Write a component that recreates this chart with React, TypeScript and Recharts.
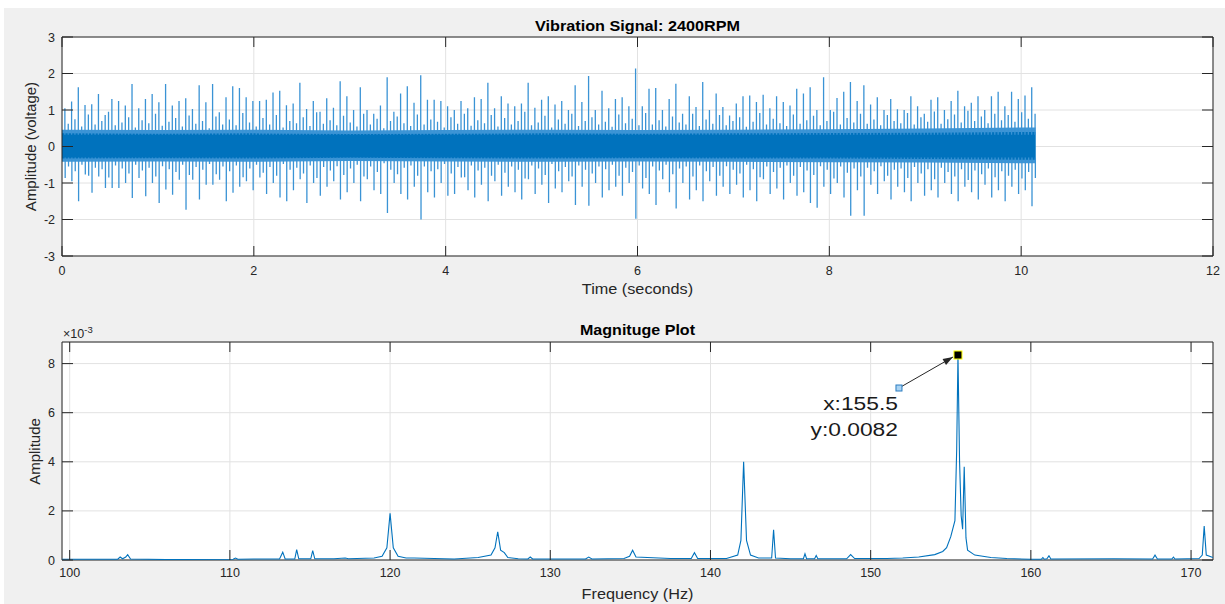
import React from 'react';
import {
  ComposedChart,
  LineChart,
  Line,
  Area,
  XAxis,
  YAxis,
  CartesianGrid,
  ReferenceArea,
  ReferenceDot,
} from 'recharts';

// ---- vibration signal (top) ----
const timeTicks = [0, 2, 4, 6, 8, 10, 12];
const voltTicks = [-3, -2, -1, 0, 1, 2, 3];

// impact spikes, one every SPIKE_DT seconds starting at SPIKE_T0
const SPIKE_T0 = 0.03;
const SPIKE_DT = 0.07;
// spikes start from the edge of the noise floor
const BASE_HI = 0.32;
const BASE_LO = -0.3;
const spikeHigh = [
  1.05, 1.23, 1.62, 1.14, 1.16, 1.44, 0.86, 1.3, 1.25, 1.12,
  1.71, 1.05, 1.3, 1.44, 1.21, 1.71, 1.12, 1.25, 1.32, 1.03,
  1.68, 1.21, 1.71, 0.94, 1.35, 1.65, 1.6, 1.35, 1.25, 1.25,
  1.28, 1.48, 1.53, 1.13, 1.18, 1.75, 1.03, 1.25, 0.95, 1.32,
  1.06, 1.79, 1.38, 1.0, 1.62, 1.0, 0.9, 1.12, 1.9, 0.95,
  1.45, 1.65, 1.2, 1.95, 1.28, 1.28, 1.25, 1.1, 1.0, 1.25,
  1.05, 1.35, 1.3, 1.75, 1.05, 1.38, 1.18, 1.1, 1.18, 1.75,
  1.06, 1.28, 1.38, 1.15, 1.25, 1.0, 1.68, 1.22, 1.93, 1.0,
  1.53, 1.05, 1.3, 1.35, 1.1, 2.14, 1.1, 1.58, 1.6, 1.0,
  1.3, 1.72, 0.9, 1.38, 1.08, 1.77, 1.0, 1.45, 1.08, 0.85,
  1.18, 1.38, 1.4, 1.22, 1.42, 1.05, 1.38, 1.22, 1.12, 1.58,
  1.45, 1.62, 1.0, 1.9, 1.0, 1.33, 1.5, 1.77, 1.25, 1.68,
  1.15, 1.35, 1.0, 1.3, 1.02, 1.0, 1.38, 1.1, 0.9, 1.28,
  1.35, 1.0, 1.25, 1.53, 1.1, 1.2, 1.38, 1.0, 1.38, 1.5,
  1.1, 1.5, 1.3, 1.4, 1.62,
];
const spikeLow = [
  -0.86, -0.95, -1.5, -0.77, -1.27, -0.82, -1.14, -1.14, -1.14, -1.0,
  -1.41, -0.86, -1.36, -1.0, -1.55, -1.18, -1.32, -0.91, -1.73, -0.91,
  -1.45, -1.05, -1.05, -0.91, -1.5, -1.27, -1.1, -0.95, -1.2, -0.85,
  -1.3, -1.0, -1.4, -1.5, -1.2, -0.9, -1.55, -1.0, -1.35, -1.1,
  -0.95, -1.45, -1.25, -1.0, -1.5, -0.9, -1.2, -1.3, -1.82, -1.0,
  -1.3, -1.45, -1.1, -2.0, -1.25, -1.4, -1.0, -1.35, -1.3, -0.85,
  -1.2, -1.4, -1.05, -1.5, -0.95, -1.35, -1.1, -1.25, -1.45, -0.9,
  -1.3, -1.05, -1.55, -1.15, -1.25, -0.95, -1.6, -1.1, -1.62, -1.0,
  -1.4, -1.2, -1.1, -1.35, -1.0, -1.98, -1.15, -1.3, -1.6, -0.9,
  -1.25, -1.7, -1.0, -1.45, -1.2, -1.5, -0.95, -1.35, -1.1, -1.3,
  -1.05, -1.4, -1.2, -1.5, -0.9, -1.3, -1.15, -1.45, -1.0, -1.35,
  -1.25, -1.55, -1.68, -1.1, -1.3, -1.0, -1.4, -1.9, -1.2, -1.9,
  -1.05, -1.3, -0.95, -1.45, -1.1, -1.25, -1.5, -1.0, -1.35, -1.2,
  -1.4, -1.0, -1.3, -1.5, -1.1, -1.25, -1.45, -1.05, -1.4, -1.2,
  -1.5, -1.1, -1.3, -1.2, -1.64,
];
// smaller bursts half way between the impacts
const minorHigh = [
  0.62, 0.75, 0.55, 0.88, 0.6, 0.7, 0.95, 0.58, 0.66, 0.8,
  0.52, 0.72, 0.64, 0.9, 0.57, 0.68, 0.78, 0.55, 0.85, 0.62,
  0.7, 0.5, 0.82, 0.6, 0.74, 0.58, 0.92, 0.66, 0.55, 0.78,
  0.6, 0.86, 0.52, 0.7, 0.64, 0.8, 0.56, 0.94, 0.62, 0.72,
  0.58, 0.84, 0.66, 0.55, 0.9, 0.6, 0.76, 0.5, 0.7, 0.82,
  0.64, 0.56, 0.88, 0.6, 0.74, 0.68, 0.52, 0.8, 0.62, 0.9,
  0.57, 0.72, 0.64, 0.86, 0.55, 0.78, 0.6, 0.7, 0.95, 0.58,
  0.66, 0.84, 0.52, 0.74, 0.62, 0.9, 0.56, 0.7, 0.8, 0.6,
  0.68, 0.54, 0.88, 0.64, 0.76, 0.58, 0.92, 0.6, 0.72, 0.55,
  0.82, 0.66, 0.6, 0.9, 0.56, 0.74, 0.62, 0.86, 0.58, 0.7,
  0.8, 0.54, 0.68, 0.92, 0.6, 0.76, 0.64, 0.56, 0.88, 0.62,
  0.72, 0.84, 0.58, 0.7, 0.95, 0.6, 0.78, 0.66, 0.9, 0.62,
  0.74, 0.58, 0.86, 0.7, 0.64, 0.92, 0.6, 0.8, 0.68, 0.96,
  0.62, 0.75, 0.88, 0.66, 0.98, 0.7, 0.82, 0.64, 0.9, 0.72,
  0.86, 0.68, 0.94, 0.76, 0.9,
];
const minorLow = [
  -0.55, -0.68, -0.5, -0.8, -0.58, -0.62, -0.85, -0.52, -0.6, -0.74,
  -0.5, -0.66, -0.58, -0.82, -0.54, -0.62, -0.7, -0.5, -0.78, -0.56,
  -0.64, -0.48, -0.76, -0.55, -0.68, -0.52, -0.84, -0.6, -0.5, -0.72,
  -0.56, -0.8, -0.48, -0.64, -0.58, -0.74, -0.52, -0.86, -0.56, -0.66,
  -0.54, -0.78, -0.6, -0.5, -0.82, -0.55, -0.7, -0.46, -0.64, -0.76,
  -0.58, -0.52, -0.8, -0.55, -0.68, -0.62, -0.48, -0.74, -0.56, -0.84,
  -0.52, -0.66, -0.58, -0.8, -0.5, -0.72, -0.55, -0.64, -0.88, -0.52,
  -0.6, -0.78, -0.48, -0.68, -0.56, -0.82, -0.52, -0.64, -0.74, -0.55,
  -0.62, -0.5, -0.8, -0.58, -0.7, -0.52, -0.86, -0.55, -0.66, -0.5,
  -0.76, -0.6, -0.55, -0.82, -0.52, -0.68, -0.56, -0.8, -0.54, -0.64,
  -0.74, -0.5, -0.62, -0.84, -0.55, -0.7, -0.58, -0.52, -0.8, -0.56,
  -0.66, -0.78, -0.54, -0.64, -0.88, -0.55, -0.72, -0.6, -0.82, -0.58,
  -0.68, -0.54, -0.8, -0.64, -0.6, -0.86, -0.56, -0.74, -0.62, -0.9,
  -0.58, -0.7, -0.82, -0.62, -0.92, -0.66, -0.76, -0.6, -0.84, -0.68,
  -0.8, -0.64, -0.88, -0.7, -0.86,
];

// dense noise floor envelope
const bandT = [0, 1, 2, 3, 4, 5, 6, 7, 8, 9, 10, 10.15];
const coreHi = [0.36, 0.35, 0.36, 0.34, 0.35, 0.36, 0.35, 0.36, 0.37, 0.38, 0.4, 0.4];
const coreLo = [-0.33, -0.32, -0.33, -0.31, -0.32, -0.33, -0.32, -0.33, -0.33, -0.34, -0.36, -0.36];
const fringeHi = [0.46, 0.45, 0.46, 0.44, 0.45, 0.46, 0.45, 0.46, 0.47, 0.49, 0.52, 0.52];
const fringeLo = [-0.42, -0.41, -0.42, -0.4, -0.41, -0.42, -0.41, -0.42, -0.43, -0.44, -0.46, -0.46];

// ---- magnitude spectrum (bottom), amplitude in units of 1e-3 ----
const freqTicks = [100, 110, 120, 130, 140, 150, 160, 170];
const ampTicks = [0, 2, 4, 6, 8];
const freqHz = [
  99.52, 103.0, 103.15, 103.3, 103.5, 103.62, 103.8, 106.0, 110.2, 110.35, 110.5, 111.5,
  113.1, 113.3, 113.45, 114.05, 114.17, 114.3, 115.05, 115.17, 115.3, 116.5, 117.2, 117.4,
  119.0, 119.5, 119.8, 120.0, 120.2, 120.5, 121.0, 121.5, 124.0, 125.5, 126.3, 126.55,
  126.72, 126.9, 127.13, 127.35, 128.0, 128.6, 128.75, 128.9, 131.0, 132.2, 132.4, 132.6,
  134.6, 134.95, 135.14, 135.35, 137.5, 138.8, 139.0, 139.2, 141.0, 141.7, 141.9, 142.07,
  142.25, 142.5, 143.0, 143.82, 143.94, 144.06, 145.0, 145.8, 145.9, 146.0, 146.5, 146.6,
  146.7, 148.5, 148.75, 149.0, 151.0, 152.0, 153.0, 154.0, 154.5, 154.74, 155.0, 155.26,
  155.37, 155.45, 155.55, 155.65, 155.74, 155.84, 155.95, 156.05, 156.5, 157.5, 158.5, 160.0,
  160.65, 160.75, 160.85, 161.0, 161.13, 161.25, 165.2, 167.6, 167.75, 167.9, 168.8, 168.9,
  169.0, 170.5, 170.7, 170.82, 170.95, 171.37,
];
const ampE3 = [
  0.03, 0.03, 0.12, 0.05, 0.12, 0.22, 0.04, 0.02, 0.03, 0.08, 0.03, 0.04,
  0.04, 0.32, 0.04, 0.04, 0.42, 0.05, 0.05, 0.38, 0.05, 0.05, 0.08, 0.05,
  0.08, 0.15, 0.5, 1.9, 0.5, 0.15, 0.08, 0.08, 0.04, 0.1, 0.2, 0.5,
  1.15, 0.4, 0.3, 0.1, 0.05, 0.04, 0.12, 0.04, 0.04, 0.04, 0.12, 0.04,
  0.06, 0.15, 0.4, 0.12, 0.06, 0.06, 0.3, 0.06, 0.06, 0.2, 0.8, 4.0,
  0.8, 0.2, 0.08, 0.08, 1.23, 0.08, 0.05, 0.05, 0.25, 0.05, 0.05, 0.18,
  0.05, 0.05, 0.22, 0.06, 0.06, 0.08, 0.12, 0.22, 0.35, 0.5, 0.95, 1.6,
  4.5, 8.35, 4.0, 1.8, 1.25, 3.8, 0.9, 0.4, 0.2, 0.1, 0.06, 0.03,
  0.03, 0.1, 0.03, 0.05, 0.17, 0.04, 0.05, 0.04, 0.2, 0.04, 0.04, 0.12,
  0.04, 0.06, 0.2, 1.38, 0.2, 0.1,
];

const peakFreq = 155.45;
const peakAmp = 8.35;
const peakLabel = ['x:155.5', 'y:0.0082'];

// ---- layout ----
const W = 1221;
const TOP_H = 300;
const BOT_H = 296;
const TOP_PLOT = { l: 58, r: 1209, t: 29, b: 248 };
const BOT_PLOT = { l: 58, r: 1209, t: 34, b: 252 };
const FONT = '"Liberation Sans", Arial, Helvetica, sans-serif';
const AXIS = '#262626';
const GRID = '#e2e2e2';
const BLUE = '#0072BD';

// each spike is its own segment (null breaks the line) so nothing crosses the dense floor
const spikeData: { t: number; v: number | null }[] = [];
const pushSpike = (t: number, hi: number, lo: number) => {
  spikeData.push(
    { t, v: BASE_HI },
    { t, v: hi },
    { t, v: null },
    { t: t + 0.003, v: BASE_LO },
    { t: t + 0.003, v: lo },
    { t: t + 0.003, v: null }
  );
};
spikeHigh.forEach((hi, i) => {
  const t = SPIKE_T0 + i * SPIKE_DT;
  pushSpike(t, hi, spikeLow[i]);
  pushSpike(t + SPIKE_DT / 2, minorHigh[i], minorLow[i]);
});
const bandData = bandT.map((t, i) => ({
  t,
  core: [coreLo[i], coreHi[i]],
  fringe: [fringeLo[i], fringeHi[i]],
}));
const spectrum = freqHz.map((f, i) => ({ f, a: ampE3[i] }));

const makeXTick = (plot: any, labelDy: number) => (props: any) => {
  const { x, payload } = props;
  return (
    <g>
      <line x1={x} x2={x} y1={plot.b} y2={plot.b - 10} stroke={AXIS} />
      <line x1={x} x2={x} y1={plot.t} y2={plot.t + 10} stroke={AXIS} />
      <text x={x} y={plot.b + labelDy} textAnchor="middle" fontSize={12.5} fill={AXIS} fontFamily={FONT}>
        {payload.value}
      </text>
    </g>
  );
};

const makeYTick = (plot: any) => (props: any) => {
  const { y, payload } = props;
  return (
    <g>
      <line x1={plot.l} x2={plot.l + 11} y1={y} y2={y} stroke={AXIS} />
      <line x1={plot.r - 11} x2={plot.r} y1={y} y2={y} stroke={AXIS} />
      <text x={plot.l - 7} y={y + 4.5} textAnchor="end" fontSize={12.5} fill={AXIS} fontFamily={FONT}>
        {payload.value}
      </text>
    </g>
  );
};

const PeakMarker = (props: any) => {
  const { cx, cy } = props;
  const ax = cx - 59;
  const ay = cy + 33;
  const tx = cx - 5;
  const ty = cy + 2;
  const ux = 0.867;
  const uy = -0.499;
  const bx = tx - 10 * ux;
  const by = ty - 10 * uy;
  return (
    <g>
      <line x1={ax} y1={ay} x2={tx} y2={ty} stroke={AXIS} strokeWidth={1} />
      <polygon
        points={`${tx},${ty} ${bx + 3.5 * 0.499},${by + 3.5 * 0.867} ${bx - 3.5 * 0.499},${by - 3.5 * 0.867}`}
        fill={AXIS}
      />
      <rect x={ax - 3} y={ay - 3} width={6} height={6} fill="#a9d3f3" stroke="#2b7cc0" strokeWidth={1} />
      <rect x={cx - 4} y={cy - 4} width={8} height={8} fill="#000" stroke="#ffff00" strokeWidth={1} />
      <text
        x={0}
        y={0}
        textAnchor="end"
        fontSize={19}
        fill="#1a1a1a"
        fontFamily={FONT}
        transform={`translate(${cx - 60},${cy + 54.5}) scale(1.2,1)`}
      >
        {peakLabel[0]}
      </text>
      <text
        x={0}
        y={0}
        textAnchor="end"
        fontSize={19}
        fill="#1a1a1a"
        fontFamily={FONT}
        transform={`translate(${cx - 60},${cy + 80.5}) scale(1.2,1)`}
      >
        {peakLabel[1]}
      </text>
    </g>
  );
};

const txt = (style: React.CSSProperties, children: React.ReactNode) => (
  <div style={{ position: 'absolute', fontFamily: FONT, whiteSpace: 'nowrap', ...style }}>{children}</div>
);

export default function App() {
  return (
    <div
      style={{
        position: 'fixed',
        left: 4,
        top: 8,
        width: W,
        height: TOP_H + BOT_H,
        background: '#f0f0f0',
        overflow: 'hidden',
      }}
    >
      <div style={{ position: 'absolute', left: 0, top: 0 }}>
        <ComposedChart width={W} height={TOP_H} margin={{ top: 29, right: 12, bottom: 0, left: 0 }}>
          <CartesianGrid stroke={GRID} fill="#fff" />
          <XAxis
            dataKey="t"
            type="number"
            domain={[0, 12]}
            ticks={timeTicks}
            allowDataOverflow
            height={52}
            axisLine={false}
            tickLine={false}
            tick={makeXTick(TOP_PLOT, 19)}
            interval={0}
          />
          <YAxis
            type="number"
            domain={[-3, 3]}
            ticks={voltTicks}
            allowDataOverflow
            width={58}
            axisLine={false}
            tickLine={false}
            tick={makeYTick(TOP_PLOT)}
            interval={0}
          />
          <Area
            data={bandData}
            dataKey="fringe"
            type="linear"
            stroke="none"
            fill="#3d95d6"
            fillOpacity={1}
            isAnimationActive={false}
          />
          <Area
            data={bandData}
            dataKey="core"
            type="linear"
            stroke="none"
            fill={BLUE}
            fillOpacity={1}
            isAnimationActive={false}
          />
          <Line
            data={spikeData}
            dataKey="v"
            type="linear"
            stroke="#3a93d5"
            strokeWidth={1.3}
            dot={false}
            activeDot={false}
            connectNulls={false}
            isAnimationActive={false}
          />
          <ReferenceArea x1={0} x2={12} y1={-3} y2={3} fill="none" fillOpacity={0} stroke={AXIS} strokeWidth={1} />
        </ComposedChart>
      </div>

      <div style={{ position: 'absolute', left: 0, top: TOP_H }}>
        <LineChart width={W} height={BOT_H} data={spectrum} margin={{ top: 34, right: 12, bottom: 0, left: 0 }}>
          <CartesianGrid stroke={GRID} fill="#fff" />
          <XAxis
            dataKey="f"
            type="number"
            domain={[freqHz[0], freqHz[freqHz.length - 1]]}
            ticks={freqTicks}
            allowDataOverflow
            height={44}
            axisLine={false}
            tickLine={false}
            tick={makeXTick(BOT_PLOT, 17)}
            interval={0}
          />
          <YAxis
            type="number"
            domain={[0, 8.88]}
            ticks={ampTicks}
            allowDataOverflow
            width={58}
            axisLine={false}
            tickLine={false}
            tick={makeYTick(BOT_PLOT)}
            interval={0}
          />
          <Line
            dataKey="a"
            type="linear"
            stroke={BLUE}
            strokeWidth={1.1}
            dot={false}
            activeDot={false}
            isAnimationActive={false}
          />
          <ReferenceArea
            x1={freqHz[0]}
            x2={freqHz[freqHz.length - 1]}
            y1={0}
            y2={8.88}
            fill="none"
            fillOpacity={0}
            stroke={AXIS}
            strokeWidth={1}
          />
          <ReferenceDot x={peakFreq} y={peakAmp} r={4} shape={PeakMarker} ifOverflow="visible" />
        </LineChart>
      </div>

      {txt(
        { left: TOP_PLOT.l, width: TOP_PLOT.r - TOP_PLOT.l, top: 10.3, textAlign: 'center', fontSize: 15, lineHeight: '15px', fontWeight: 'bold', color: '#000', transform: 'scaleX(1.08)' },
        'Vibration Signal: 2400RPM'
      )}
      {txt(
        { left: TOP_PLOT.l, width: TOP_PLOT.r - TOP_PLOT.l, top: 274, textAlign: 'center', fontSize: 14, lineHeight: '14px', color: AXIS, transform: 'scaleX(1.16)' },
        'Time (seconds)'
      )}
      {txt(
        { left: 26 - 150, width: 300, top: 138 - 7.5, textAlign: 'center', fontSize: 15, lineHeight: '15px', color: AXIS, transform: 'rotate(-90deg)' },
        'Amplitude (voltage)'
      )}
      {txt(
        { left: BOT_PLOT.l, width: BOT_PLOT.r - BOT_PLOT.l, top: TOP_H + 14.3, textAlign: 'center', fontSize: 15, lineHeight: '15px', fontWeight: 'bold', color: '#000', transform: 'scaleX(1.07)' },
        'Magnituge Plot'
      )}
      {txt(
        { left: BOT_PLOT.l, width: BOT_PLOT.r - BOT_PLOT.l, top: TOP_H + 279, textAlign: 'center', fontSize: 14, lineHeight: '14px', color: AXIS, transform: 'scaleX(1.16)' },
        'Frequency (Hz)'
      )}
      {txt(
        { left: 30 - 100, width: 200, top: TOP_H + 143 - 7.5, textAlign: 'center', fontSize: 15, lineHeight: '15px', color: AXIS, transform: 'rotate(-90deg)' },
        'Amplitude'
      )}
      {txt(
        { left: 59, top: TOP_H + 19.5, fontSize: 12.5, lineHeight: '12.5px', color: AXIS },
        <>
          ×10<sup style={{ fontSize: 9.5, verticalAlign: 'top', position: 'relative', top: -4 }}>-3</sup>
        </>
      )}
    </div>
  );
}
